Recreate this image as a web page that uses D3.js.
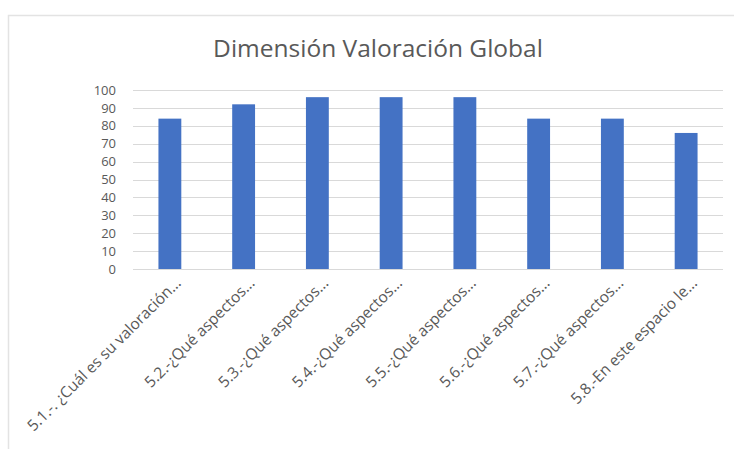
<!DOCTYPE html>
<html>
<head>
<meta charset="utf-8">
<script src="https://cdn.jsdelivr.net/npm/d3@7"></script>
<style>
  html, body { margin: 0; padding: 0; background: #fff; }
  svg { display: block; }
  text { font-family: "Open Sans", "Noto Sans", sans-serif; fill: #595959; }
</style>
</head>
<body>
<svg id="chart" width="734" height="449"></svg>
<script>
// Survey items for the "Valoración Global" dimension and their scores
const categories = [
  "5.1.-. ¿Cuál es su valoración...",
  "5.2.-¿Qué aspectos...",
  "5.3.-¿Qué aspectos...",
  "5.4.-¿Qué aspectos...",
  "5.5.-¿Qué aspectos...",
  "5.6.-¿Qué aspectos...",
  "5.7.-¿Qué aspectos...",
  "5.8.-En este espacio le..."
];
const values = [84, 92, 96, 96, 96, 84, 84, 76];
const yTicks = [0, 10, 20, 30, 40, 50, 60, 70, 80, 90, 100];
const title = "Dimensión Valoración Global";

const svg = d3.select("#chart");
const W = 734, H = 449;
const plot = { left: 133, right: 723, top: 90, bottom: 269 };

// chart frame
svg.append("rect")
  .attr("x", 8.5).attr("y", 15.5)
  .attr("width", W + 20).attr("height", H + 20)
  .attr("fill", "#fff")
  .attr("stroke", "#e3e3e3").attr("stroke-width", 1.5);

const x = d3.scaleBand()
  .domain(categories)
  .range([plot.left, plot.right])
  .paddingInner(0.69).paddingOuter(0.345);

const y = d3.scaleLinear()
  .domain([0, 100])
  .range([plot.bottom, plot.top]);

// horizontal gridlines
svg.append("g")
  .selectAll("line")
  .data(yTicks)
  .join("line")
  .attr("x1", plot.left).attr("x2", plot.right)
  .attr("y1", d => Math.round(y(d)) + 0.5)
  .attr("y2", d => Math.round(y(d)) + 0.5)
  .attr("stroke", "#d9d9d9").attr("stroke-width", 1);

// y axis labels
const yAxis = d3.axisLeft(y).tickValues(yTicks).tickSize(0).tickPadding(0);
const yg = svg.append("g")
  .attr("transform", `translate(${plot.left - 17},0)`)
  .call(yAxis);
yg.select(".domain").remove();
yg.selectAll("text")
  .style("font-size", "13px")
  .attr("fill", "#595959");

// bars
svg.append("g")
  .selectAll("rect")
  .data(values)
  .join("rect")
  .attr("x", (d, i) => x(categories[i]))
  .attr("width", x.bandwidth())
  .attr("y", d => y(d))
  .attr("height", d => y(0) - y(d))
  .attr("fill", "#4472c4");

// rotated category labels
const xAxis = d3.axisBottom(x).tickSize(0).tickPadding(0);
const xg = svg.append("g")
  .attr("transform", `translate(0,${plot.bottom})`)
  .call(xAxis);
xg.select(".domain").remove();
xg.selectAll("text")
  .style("font-size", "15.5px")
  .attr("fill", "#595959")
  .attr("text-anchor", "end")
  .attr("dy", "0")
  .attr("transform", "translate(12,15) rotate(-45)");

// title
svg.append("text")
  .attr("x", 378).attr("y", 57)
  .attr("text-anchor", "middle")
  .style("font-size", "24.5px")
  .attr("fill", "#595959")
  .text(title);
</script>
</body>
</html>
